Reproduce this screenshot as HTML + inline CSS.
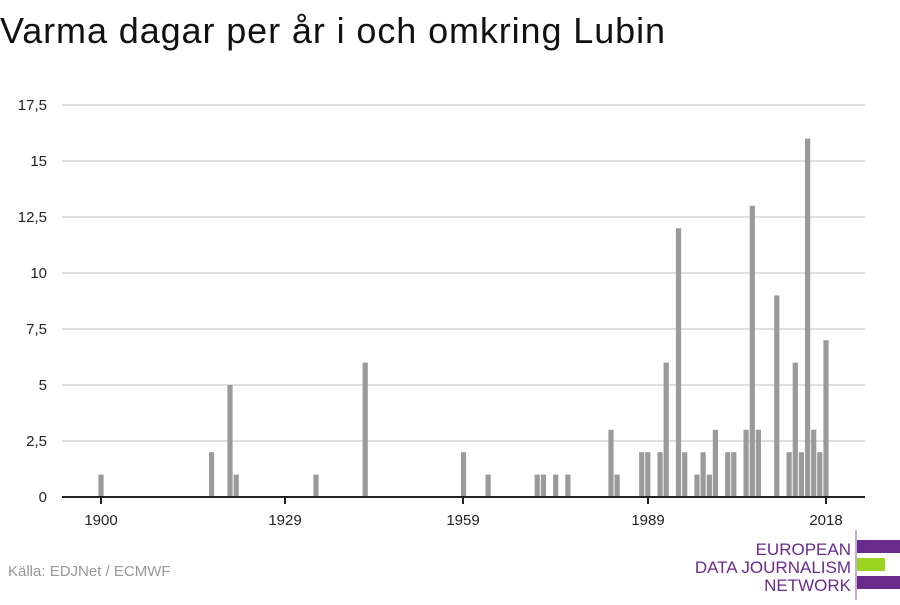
<!DOCTYPE html>
<html><head><meta charset="utf-8"><style>
body{margin:0;background:#fff;width:900px;height:600px;overflow:hidden;font-family:"Liberation Sans",sans-serif}
</style></head><body>
<svg width="900" height="600" xmlns="http://www.w3.org/2000/svg" font-family="Liberation Sans, sans-serif">
<text x="0" y="43" font-size="36" fill="#111" textLength="665" lengthAdjust="spacing">Varma dagar per år i och omkring Lubin</text>
<g stroke="#e0e0e0" stroke-width="2">
<line x1="62" x2="865" y1="105" y2="105"/><line x1="62" x2="865" y1="161" y2="161"/>
<line x1="62" x2="865" y1="217" y2="217"/><line x1="62" x2="865" y1="273" y2="273"/>
<line x1="62" x2="865" y1="329" y2="329"/><line x1="62" x2="865" y1="385" y2="385"/>
<line x1="62" x2="865" y1="441" y2="441"/>
</g>
<g font-size="15" fill="#222" text-anchor="end">
<text x="47" y="110">17,5</text><text x="47" y="166">15</text><text x="47" y="222">12,5</text>
<text x="47" y="278">10</text><text x="47" y="334">7,5</text><text x="47" y="390">5</text>
<text x="47" y="446">2,5</text><text x="47" y="502">0</text>
</g>
<g fill="#9a9a9a">
<rect x="98.4" y="474.6" width="5.2" height="22.4"/>
<rect x="209.0" y="452.2" width="5.2" height="44.8"/>
<rect x="227.4" y="385" width="5.2" height="112"/>
<rect x="233.6" y="474.6" width="5.2" height="22.4"/>
<rect x="313.4" y="474.6" width="5.2" height="22.4"/>
<rect x="362.6" y="362.6" width="5.2" height="134.4"/>
<rect x="460.9" y="452.2" width="5.2" height="44.8"/>
<rect x="485.5" y="474.6" width="5.2" height="22.4"/>
<rect x="534.6" y="474.6" width="5.2" height="22.4"/>
<rect x="540.8" y="474.6" width="5.2" height="22.4"/>
<rect x="553.1" y="474.6" width="5.2" height="22.4"/>
<rect x="565.3" y="474.6" width="5.2" height="22.4"/>
<rect x="608.4" y="429.8" width="5.2" height="67.2"/>
<rect x="614.5" y="474.6" width="5.2" height="22.4"/>
<rect x="639.1" y="452.2" width="5.2" height="44.8"/>
<rect x="645.2" y="452.2" width="5.2" height="44.8"/>
<rect x="657.5" y="452.2" width="5.2" height="44.8"/>
<rect x="663.6" y="362.6" width="5.2" height="134.4"/>
<rect x="675.9" y="228.2" width="5.2" height="268.8"/>
<rect x="682.1" y="452.2" width="5.2" height="44.8"/>
<rect x="694.4" y="474.6" width="5.2" height="22.4"/>
<rect x="700.5" y="452.2" width="5.2" height="44.8"/>
<rect x="706.7" y="474.6" width="5.2" height="22.4"/>
<rect x="712.8" y="429.8" width="5.2" height="67.2"/>
<rect x="725.1" y="452.2" width="5.2" height="44.8"/>
<rect x="731.2" y="452.2" width="5.2" height="44.8"/>
<rect x="743.5" y="429.8" width="5.2" height="67.2"/>
<rect x="749.7" y="205.8" width="5.2" height="291.2"/>
<rect x="755.8" y="429.8" width="5.2" height="67.2"/>
<rect x="774.2" y="295.4" width="5.2" height="201.6"/>
<rect x="786.5" y="452.2" width="5.2" height="44.8"/>
<rect x="792.7" y="362.6" width="5.2" height="134.4"/>
<rect x="798.8" y="452.2" width="5.2" height="44.8"/>
<rect x="805.0" y="138.6" width="5.2" height="358.4"/>
<rect x="811.1" y="429.8" width="5.2" height="67.2"/>
<rect x="817.2" y="452.2" width="5.2" height="44.8"/>
<rect x="823.4" y="340.2" width="5.2" height="156.8"/>
</g>
<line x1="62" x2="865" y1="497" y2="497" stroke="#222" stroke-width="2"/>
<g stroke="#222" stroke-width="2">
<line x1="101" x2="101" y1="497" y2="504"/><line x1="285" x2="285" y1="497" y2="504"/>
<line x1="463" x2="463" y1="497" y2="504"/><line x1="648" x2="648" y1="497" y2="504"/>
<line x1="826" x2="826" y1="497" y2="504"/>
</g>
<g font-size="15" fill="#222" text-anchor="middle">
<text x="101" y="525">1900</text><text x="285" y="525">1929</text><text x="463" y="525">1959</text>
<text x="648" y="525">1989</text><text x="826" y="525">2018</text>
</g>
<text x="8" y="576" font-size="15" fill="#999">Källa: EDJNet / ECMWF</text>
<g font-size="17" fill="#6a2a8c" text-anchor="end">
<text x="851" y="555">EUROPEAN</text><text x="851" y="573">DATA JOURNALISM</text><text x="851" y="591">NETWORK</text>
</g>
<line x1="856" x2="856" y1="530" y2="600" stroke="#8a5aa8" stroke-width="1"/>
<rect x="857" y="540" width="43" height="13" fill="#6a2a8c"/>
<rect x="857" y="558" width="28" height="13" fill="#99d420"/>
<rect x="857" y="576" width="43" height="13" fill="#6a2a8c"/>
</svg>
</body></html>
